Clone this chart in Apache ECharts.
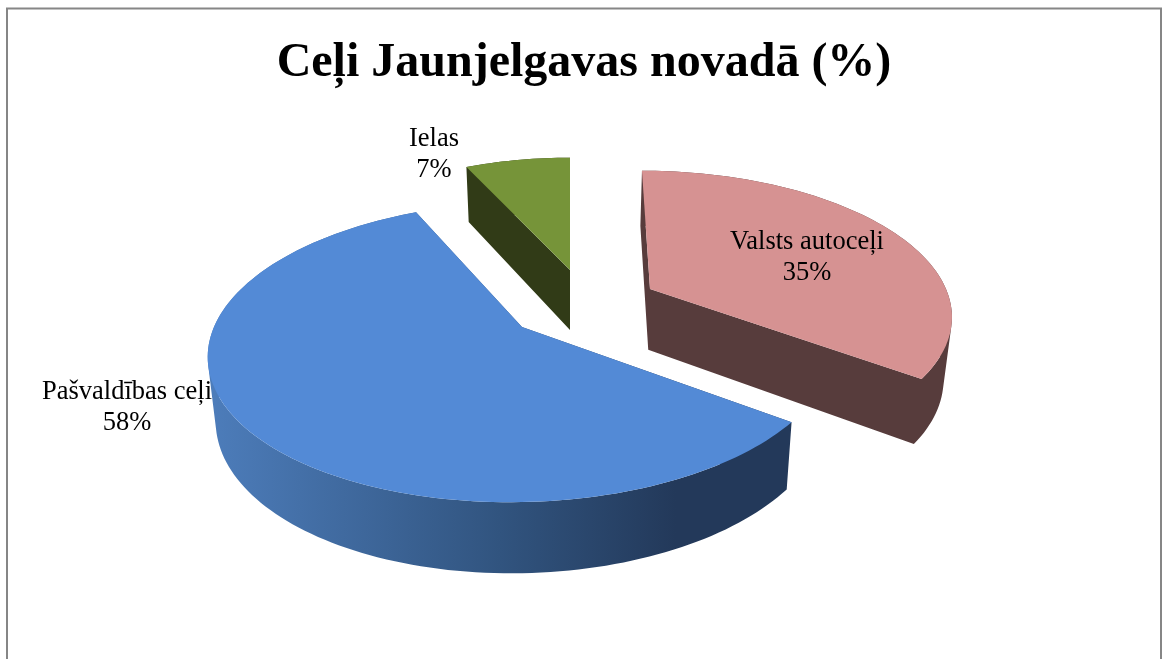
<!DOCTYPE html>
<html>
<head>
<meta charset="utf-8">
<title>Ceļi Jaunjelgavas novadā</title>
<style>
  html, body { margin: 0; padding: 0; background: #fff; }
  #main { width: 1162px; height: 659px; }
</style>
<script src="https://cdn.jsdelivr.net/npm/echarts@6/dist/echarts.min.js"></script>
</head>
<body>
<div id="main"></div>
<script>
// data
var categories = ['Valsts autoceļi', 'Pašvaldības ceļi', 'Ielas'];
var values = [35, 58, 7];

// look of every slice, same order as categories
var topColors = ['#d69292', '#538ad6', '#769439'];
var cutColors = ['#573c3c', '#23395a', '#313b17'];
var centers = [[650, 289], [522, 327], [570, 270]];
var radiusX = [296, 308, 280];
var radiusY = [138, 146, 131];
var shears = [0.068, -0.07, 0];
var labelPos = [[807, 258], [127, 408], [434, 155]];
var labelLayer = [3, 0, 3];

var tilt = 1 / 6; // perspective of the pie plate
var total = values.reduce(function (a, b) { return a + b; }, 0);

var myChart = echarts.init(document.getElementById('main'));

// point on the rim of a slice, angle in degrees, -90 is the far side
var rimPoint = function (i, deg) {
    var a = deg * Math.PI / 180;
    var w = 1 - tilt * Math.sin(a);
    var dy = radiusY[i] * Math.sin(a) / w;
    return [centers[i][0] + radiusX[i] * Math.cos(a) / w + shears[i] * dy, centers[i][1] + dy];
};
// same point on the underside of the pie
var lower = function (p) {
    return [570 + (p[0] - 570) * 0.978, p[1] * 1.048 + 47];
};
var arcPoints = function (i, from, to) {
    var pts = [];
    var n = Math.ceil((to - from) / 1.5);
    for (var k = 0; k <= n; k++) {
        pts.push(rimPoint(i, from + (to - from) * k / n));
    }
    return pts;
};
// one quad as a subpath, always the same winding so the pieces join without seams
var quadPath = function (a, b) {
    var pts = [a, b, lower(b), lower(a)];
    var area = 0;
    for (var k = 0; k < 4; k++) {
        var n = pts[(k + 1) % 4];
        area += pts[k][0] * n[1] - n[0] * pts[k][1];
    }
    if (area < 0) {
        pts.reverse();
    }
    return 'M' + pts.map(function (p) { return p[0].toFixed(2) + ' ' + p[1].toFixed(2); }).join('L') + 'Z';
};

var renderItem = function (params, api) {
    var i = params.dataIndex;
    var before = 0;
    for (var k = 0; k < i; k++) {
        before += values[k];
    }
    var from = -90 + before / total * 360;
    var to = from + api.value(0) / total * 360;
    var arc = arcPoints(i, from, to);
    var apex = centers[i];

    var wallFill = cutColors[i];
    if (i === 1) {
        wallFill = new echarts.graphic.LinearGradient(207, 0, 793, 0, [
            { offset: 0, color: '#4d7dbb' },
            { offset: 0.5, color: '#31547f' },
            { offset: 0.8, color: '#23395a' },
            { offset: 1, color: '#23395a' }
        ], true);
    }
    var wallPath = quadPath(apex, arc[0]) + quadPath(apex, arc[arc.length - 1]);
    for (var q = 0; q < arc.length - 1; q++) {
        wallPath += quadPath(arc[q], arc[q + 1]);
    }
    return {
        type: 'group',
        children: [
            {
                type: 'path',
                z2: 1,
                shape: { pathData: wallPath },
                style: { fill: wallFill }
            },
            {
                type: 'polygon',
                z2: 2,
                shape: { points: [apex].concat(arc) },
                style: { fill: topColors[i] }
            },
            {
                type: 'text',
                z2: labelLayer[i],
                x: labelPos[i][0],
                y: labelPos[i][1],
                style: {
                    text: categories[i] + '\n' + api.value(0) + '%',
                    font: '26.5px "Liberation Serif"',
                    lineHeight: 31,
                    fill: '#000',
                    align: 'center',
                    verticalAlign: 'middle'
                }
            }
        ]
    };
};

var option = {
    backgroundColor: '#fff',
    animation: false,
    title: {
        text: 'Ceļi Jaunjelgavas novadā (%)',
        left: 579,
        top: 35,
        textAlign: 'center',
        textStyle: {
            fontFamily: 'Liberation Serif',
            fontSize: 48,
            fontWeight: 'bold',
            color: '#000'
        }
    },
    graphic: [
        {
            type: 'rect',
            silent: true,
            shape: { x: 7, y: 8.5, width: 1154, height: 700 },
            style: { fill: 'none', stroke: '#868686', lineWidth: 2 }
        }
    ],
    series: [
        {
            type: 'custom',
            coordinateSystem: 'none',
            silent: true,
            renderItem: renderItem,
            data: values
        }
    ]
};

myChart.setOption(option);
</script>
</body>
</html>
